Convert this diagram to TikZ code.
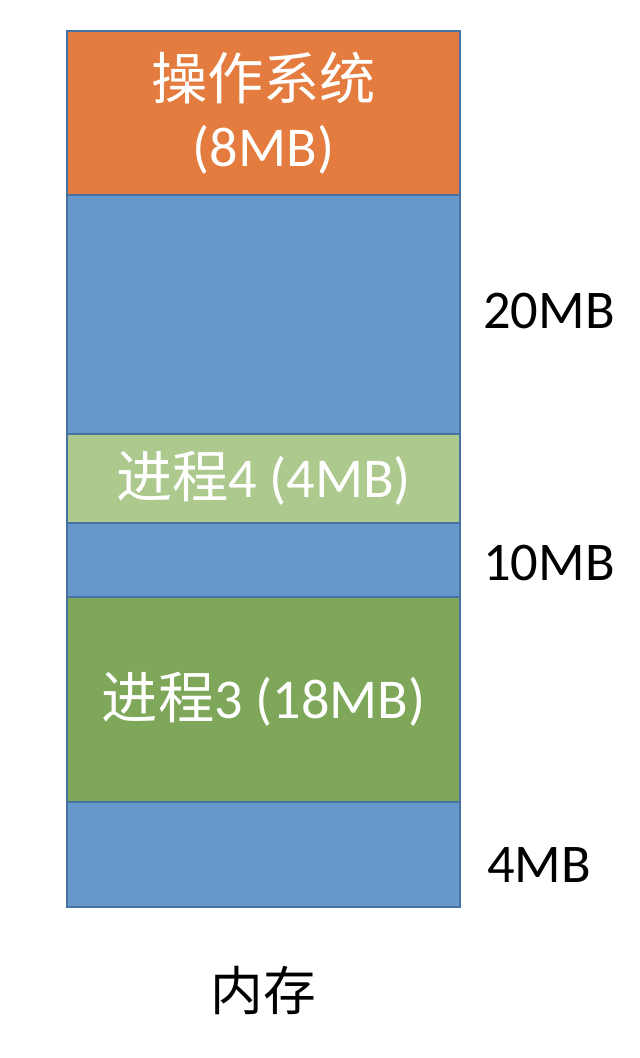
\documentclass[tikz,border=0pt]{standalone}
\usepackage{fontspec}
\setmainfont{Carlito}
\newfontfamily\cjk{Noto Sans CJK SC}
\usetikzlibrary{positioning}
\definecolor{osorange}{HTML}{E37C3E}
\definecolor{freeblue}{HTML}{6798CC}
\definecolor{lightgreen}{HTML}{ADC98E}
\definecolor{darkgreen}{HTML}{7EA75A}
\definecolor{edgeblue}{HTML}{4673A3}

\begin{document}
\begin{tikzpicture}

\tikzset{my-block/.style={rectangle, draw=edgeblue, line width=1pt, outer sep=0pt,
                          minimum width=7.86cm, text=white,
                          font=\fontsize{32}{38}\selectfont, align=center},
         my-size/.style={anchor=west, inner sep=0pt, font=\fontsize{31}{36}\selectfont}}

\useasboundingbox[fill=white] (0,0) rectangle (12.8,-21.16);

\node (os) [my-block, fill=osorange, minimum height=3.28cm, anchor=north west]
  at (1.34,-0.62) {{\cjk 操作系统}\\(8MB)};
\node (free1) [my-block, fill=freeblue, minimum height=4.78cm, below=0pt of os] {};
\node (p4) [my-block, fill=lightgreen, minimum height=1.78cm, below=0pt of free1]
  {{\cjk 进程}4 (4MB)};
\node (free2) [my-block, fill=freeblue, minimum height=1.48cm, below=0pt of p4] {};
\node (p3) [my-block, fill=darkgreen, minimum height=4.10cm, below=0pt of free2]
  {{\cjk 进程}3 (18MB)};
\node (free3) [my-block, fill=freeblue, minimum height=2.10cm, below=0pt of p3] {};

\node (s1) [my-size, right=0.46cm of free1.east, yshift=0.06cm] {20MB};
\node (s2) [my-size, right=0.46cm of free2.east, yshift=-0.06cm] {10MB};
\node (s3) [my-size, right=0.54cm of free3.east, yshift=-0.2cm] {4MB};

\node (mem) [below=1.05cm of free3, font=\fontsize{30}{36}\selectfont\cjk] {内存};

\end{tikzpicture}
\end{document}
